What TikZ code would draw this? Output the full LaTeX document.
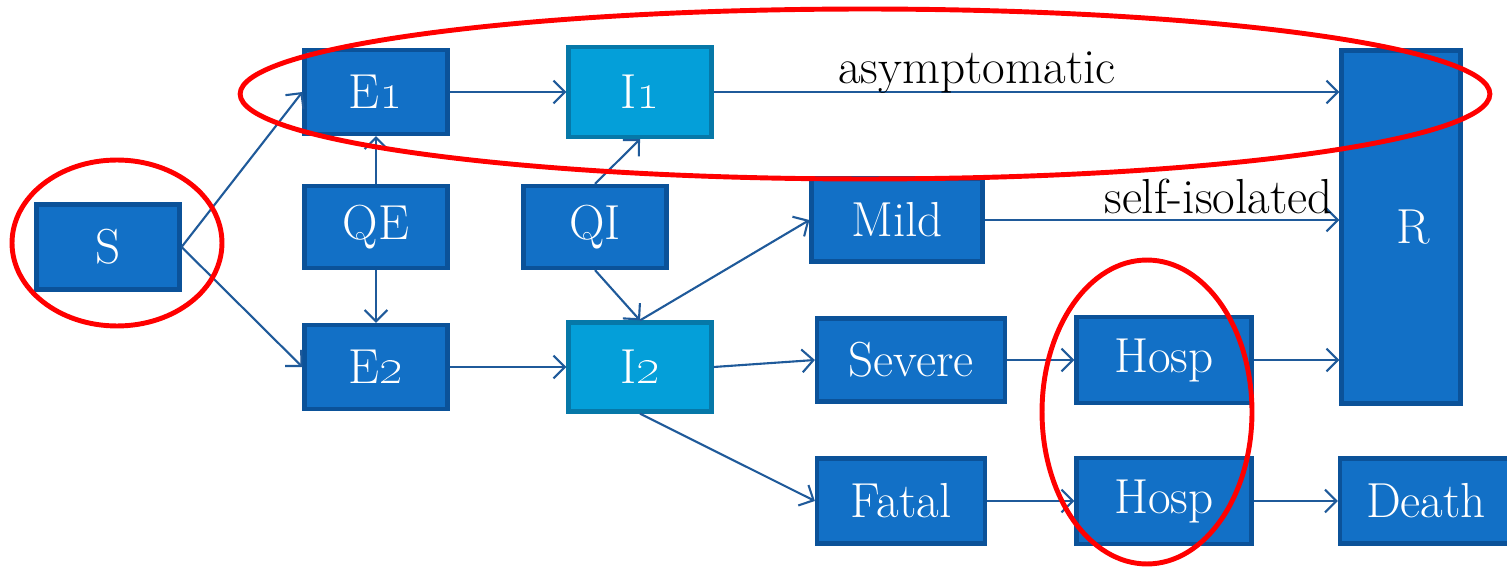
\documentclass[tikz,border=0pt]{standalone}
\usetikzlibrary{arrows.meta}
\definecolor{boxfill}{HTML}{1270C6}
\definecolor{boxline}{HTML}{0B5299}
\definecolor{lightfill}{HTML}{049FD9}
\definecolor{lightline}{HTML}{0678A8}
\definecolor{arrowc}{HTML}{1F5A9A}
\definecolor{ovalred}{HTML}{FF0000}
\tikzset{
  stbox/.style 2 args={draw=boxline, fill=boxfill, line width=2.4pt, text=white,
    minimum width=#1*0.02cm, minimum height=#2*0.02cm, inner sep=0pt,
    font=\fontsize{28}{30}\selectfont},
  ltbox/.style 2 args={stbox={#1}{#2}, draw=lightline, fill=lightfill},
  flow/.style={draw=arrowc, line width=1.2pt, -{Straight Barb[length=6.5pt,width=13pt,line width=1.2pt]}},
  oval/.style={draw=ovalred, line width=2.8pt},
  lbl/.style={font=\fontsize{28}{30}\selectfont, text=black, inner sep=0pt}
}
\begin{document}
\begin{tikzpicture}[x=0.02cm, y=-0.02cm]
\useasboundingbox (0,0) rectangle (1507,567);
\fill[white] (0,0) rectangle (1507,567);
% nodes
\node[stbox={143}{85}] (S) at (108,247) {S};
\node[stbox={143}{84}] (E1) at (376,92) {E\oldstylenums{1}};
\node[ltbox={143}{90}] (I1) at (640,92) {I\oldstylenums{1}};
\node[stbox={143}{82}] (QE) at (376,227) {QE};
\node[stbox={143}{82}] (QI) at (595,227) {QI};
\node[stbox={143}{84}] (E2) at (376,367) {E\oldstylenums{2}};
\node[ltbox={143}{89}] (I2) at (640,367) {I\oldstylenums{2}};
\node[stbox={171}{83}] (Mild) at (897,220) {Mild};
\node[stbox={188}{83}] (Severe) at (911,360) {Severe};
\node[stbox={168}{85}] (Fatal) at (901,501) {Fatal};
\node[stbox={175}{86}] (H1) at (1164,360) {Hosp};
\node[stbox={175}{86}] (H2) at (1164,501) {Hosp};
\node[stbox={119}{353}] (R) at (1401,227) {\hspace*{0.48cm}R};
\node[stbox={172}{85}] (Death) at (1426,501) {Death};
% connectors
\draw[flow] (S.east) -- (E1.west);
\draw[flow] (S.east) -- (E2.west);
\draw[flow] (E1.east) -- (I1.west);
\draw[flow] (QE.north) -- (E1.south);
\draw[flow] (QE.south) -- (E2.north);
\draw[flow] (QI.north) -- (I1.south);
\draw[flow] (QI.south) -- (I2.north);
\draw[flow] (E2.east) -- (I2.west);
\draw[flow] (I1.east) -- (R.west |- I1.east);
\draw[flow] (I2.north) -- (Mild.west);
\draw[flow] (I2.east) -- (Severe.west);
\draw[flow] (I2.south) -- (Fatal.west);
\draw[flow] (Mild.east) -- (R.west |- Mild.east);
\draw[flow] (Severe.east) -- (H1.west);
\draw[flow] (H1.east) -- (R.west |- H1.east);
\draw[flow] (Fatal.east) -- (H2.west);
\draw[flow] (H2.east) -- (Death.west);
% labels
\node[lbl, anchor=base] (asym) at (977,84) {asymptomatic};
\node[lbl, anchor=base east] (self) at (1333,214) {self-isolated};
% ovals
\draw[oval] (117,243) ellipse [x radius=2.1cm, y radius=1.66cm];
\draw[oval] (865,94) ellipse [x radius=12.5cm, y radius=1.7cm];
\draw[oval] (1147,412) ellipse [x radius=2.1cm, y radius=3.04cm];
\end{tikzpicture}
\end{document}
